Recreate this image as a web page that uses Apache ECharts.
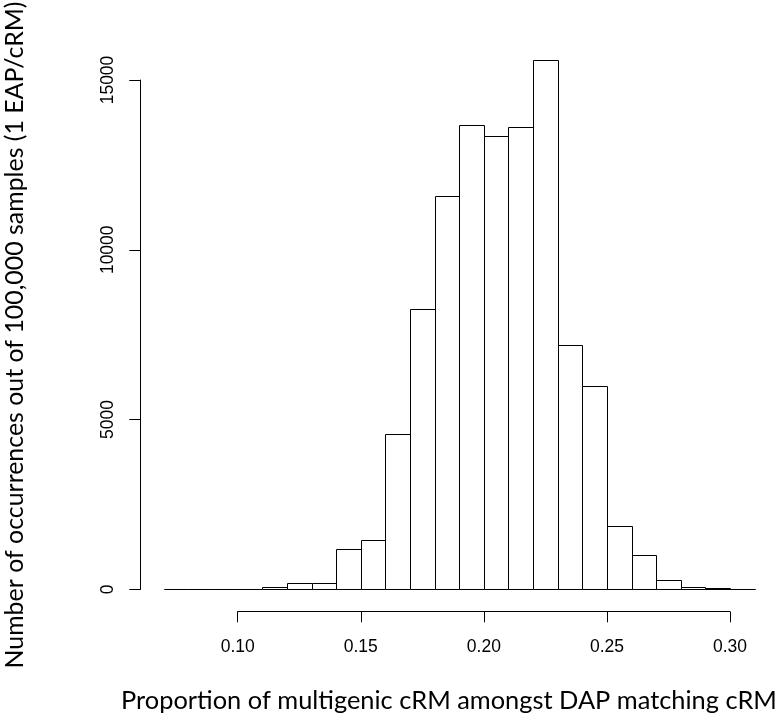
<!DOCTYPE html>
<html>
<head>
<meta charset="utf-8">
<script src="https://cdn.jsdelivr.net/npm/echarts@6/dist/echarts.min.js"></script>
<style>
html,body{margin:0;padding:0;background:#fff;}
#chart{width:780px;height:714px;}
</style>
</head>
<body>
<div id="chart"></div>
<script>
// Histogram bins (left edges), width 0.01
const binStarts = [0.07,0.08,0.09,0.10,0.11,0.12,0.13,0.14,0.15,0.16,0.17,0.18,0.19,0.20,0.21,0.22,0.23,0.24,0.25,0.26,0.27,0.28,0.29,0.30];
const counts    = [10,0,5,10,60,180,195,1200,1445,4575,8255,11585,13685,13350,13615,15580,7185,5980,1860,1000,275,80,40,10];
const binWidth = 0.01;
const xTicks = ['0.10','0.15','0.20','0.25','0.30'];
const yTicks = ['0','5000','10000','15000'];
const xTitle = 'Proportion of multigenic cRM amongst DAP matching cRM';
const yTitle = 'Number of occurrences out of 100,000 samples (1 EAP/cRM)';

const chart = echarts.init(document.getElementById('chart'), null, {renderer:'canvas'});

const data = binStarts.map((s,i)=>[s, s+binWidth, counts[i]]);

const axisFont = {fontFamily:'Liberation Sans', fontSize:17.5, color:'#000'};

const option = {
  animation:false,
  backgroundColor:'#fff',
  grid:[
    {left:163.85, width:590.8, top:46, height:543.3},
    {left:237.7, width:492.3, top:46, height:543.3},
    {left:140.7, width:10, top:80, height:509.3}
  ],
  xAxis:[
    {gridIndex:0, type:'value', min:0.07, max:0.31, show:false},
    {gridIndex:1, type:'value', min:0.10, max:0.30, interval:0.05, position:'bottom', offset:22.4,
     axisLine:{show:true, onZero:false, lineStyle:{color:'#000', width:1}},
     axisTick:{show:true, length:10.6, lineStyle:{color:'#000', width:1}},
     splitLine:{show:false},
     axisLabel:Object.assign({margin:26, formatter:(v)=>{const s=v.toFixed(2); return xTicks.includes(s)?s:'';}}, axisFont)},
    {gridIndex:2, type:'value', min:0, max:1, show:false}
  ],
  yAxis:[
    {gridIndex:0, type:'value', min:0, max:16000, show:false},
    {gridIndex:1, type:'value', min:0, max:16000, show:false},
    {gridIndex:2, type:'value', min:0, max:15000, interval:5000, position:'left',
     axisLine:{show:true, onZero:false, lineStyle:{color:'#000', width:1}},
     axisTick:{show:true, length:11.4, lineStyle:{color:'#000', width:1}},
     splitLine:{show:false},
     axisLabel:Object.assign({margin:24, rotate:90, formatter:(v)=>{const s=String(v); return yTicks.includes(s)?s:'';}}, axisFont)}
  ],
  series:[{
    type:'custom',
    xAxisIndex:0, yAxisIndex:0,
    data:data,
    encode:{x:[0,1], y:2},
    clip:false,
    renderItem:function(params, api){
      const p0 = api.coord([api.value(0), api.value(2)]);
      const p1 = api.coord([api.value(1), 0]);
      const x0 = Math.round(p0[0])+0.5, x1 = Math.round(p1[0])+0.5;
      const y0 = Math.round(p0[1])+0.5, y1 = Math.round(p1[1])+0.5;
      return {
        type:'rect',
        shape:{x:x0, y:y0, width:x1-x0, height:y1-y0},
        style:{fill:'#fff', stroke:'#000', lineWidth:1}
      };
    }
  }],
  graphic:[
    {type:'text', x:449, y:701, style:{text:xTitle, fontFamily:'Lato', fontSize:25.4, fill:'#000', align:'center', verticalAlign:'middle'}},
    {type:'text', x:15, y:335, rotation:Math.PI/2, style:{text:yTitle, fontFamily:'Lato', fontSize:24.9, fill:'#000', align:'center', verticalAlign:'middle'}}
  ]
};
chart.setOption(option);
</script>
</body>
</html>
